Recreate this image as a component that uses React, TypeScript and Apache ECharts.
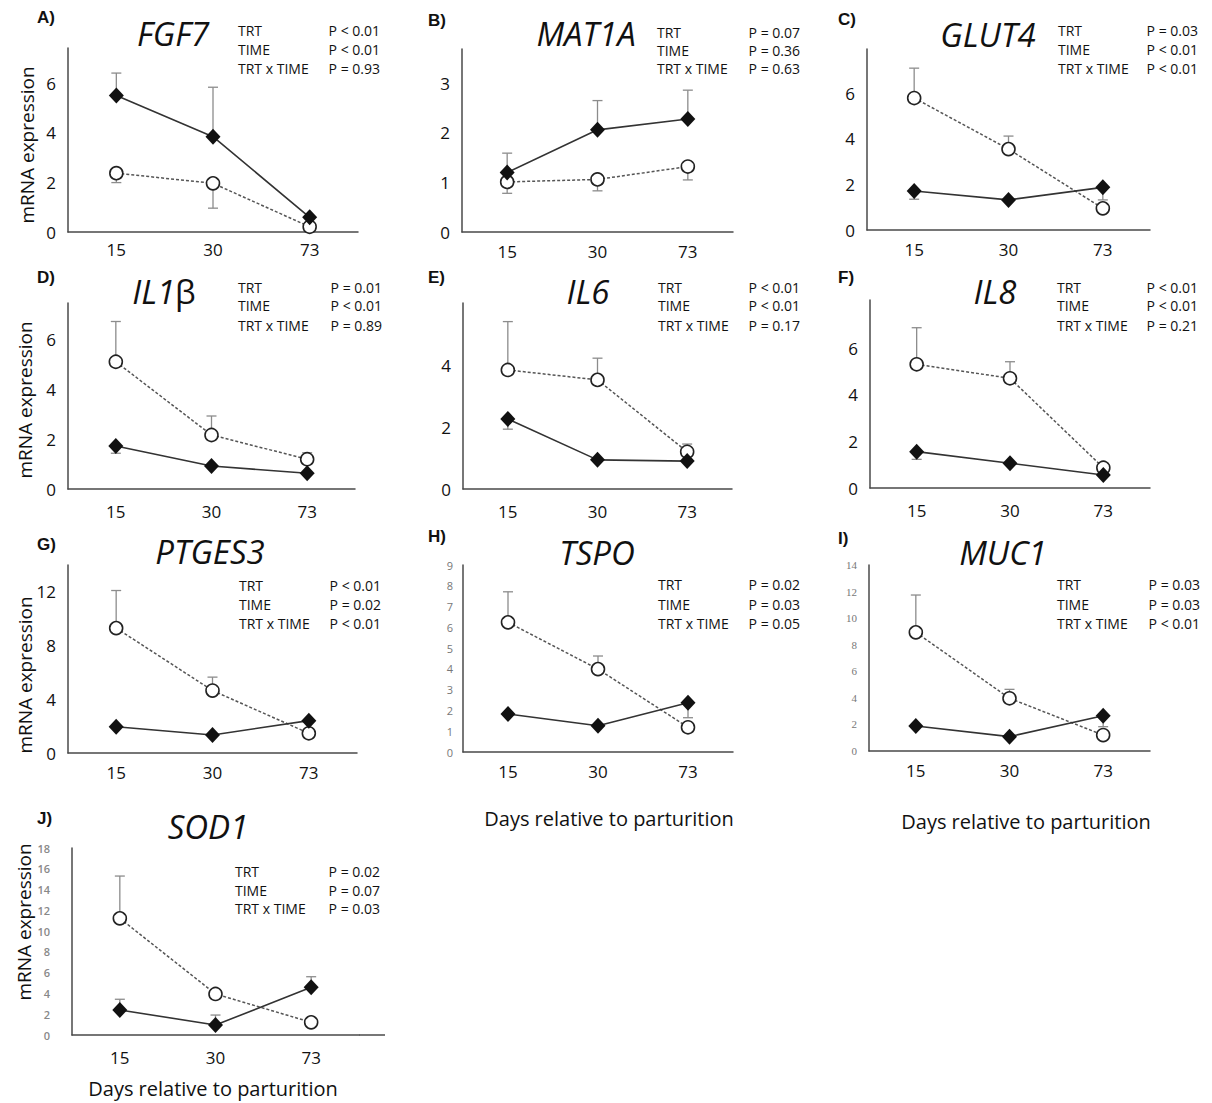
import React, { useEffect, useRef } from 'react';
import * as echarts from 'echarts';

// ---------- data ----------
const days = ['15', '30', '73'];
const statNames = ['TRT', 'TIME', 'TRT x TIME'];

const fgf7Diamond = [5.5, 3.84, 0.59];
const fgf7DiamondErr = [6.4, 5.83, null];
const fgf7Circle = [2.37, 1.96, 0.21];
const fgf7CircleErr = [1.99, 0.96, null];
const fgf7Ticks = [0, 2, 4, 6];
const fgf7P = ['P < 0.01', 'P < 0.01', 'P = 0.93'];

const mat1aDiamond = [1.2, 2.06, 2.28];
const mat1aDiamondErr = [1.59, 2.65, 2.86];
const mat1aCircle = [1.01, 1.06, 1.32];
const mat1aCircleErr = [0.78, 0.83, 1.05];
const mat1aTicks = [0, 1, 2, 3];
const mat1aP = ['P = 0.07', 'P = 0.36', 'P = 0.63'];

const glut4Diamond = [1.71, 1.32, 1.87];
const glut4DiamondErr = [1.35, null, 1.32];
const glut4Circle = [5.79, 3.55, 0.95];
const glut4CircleErr = [7.1, 4.12, null];
const glut4Ticks = [0, 2, 4, 6];
const glut4P = ['P = 0.03', 'P < 0.01', 'P < 0.01'];

const il1bDiamond = [1.72, 0.92, 0.63];
const il1bDiamondErr = [1.43, null, null];
const il1bCircle = [5.09, 2.16, 1.19];
const il1bCircleErr = [6.7, 2.92, 1.45];
const il1bTicks = [0, 2, 4, 6];
const il1bP = ['P = 0.01', 'P < 0.01', 'P = 0.89'];

const il6Diamond = [2.26, 0.94, 0.9];
const il6DiamondErr = [1.93, null, null];
const il6Circle = [3.84, 3.52, 1.2];
const il6CircleErr = [5.4, 4.22, 1.45];
const il6Ticks = [0, 2, 4];
const il6P = ['P < 0.01', 'P < 0.01', 'P = 0.17'];

const il8Diamond = [1.56, 1.06, 0.56];
const il8DiamondErr = [1.23, null, null];
const il8Circle = [5.31, 4.71, 0.87];
const il8CircleErr = [6.88, 5.42, 1.07];
const il8Ticks = [0, 2, 4, 6];
const il8P = ['P < 0.01', 'P < 0.01', 'P = 0.21'];

const ptges3Diamond = [1.96, 1.34, 2.41];
const ptges3DiamondErr = [null, null, null];
const ptges3Circle = [9.3, 4.65, 1.47];
const ptges3CircleErr = [12.1, 5.65, null];
const ptges3Ticks = [0, 4, 8, 12];
const ptges3P = ['P < 0.01', 'P = 0.02', 'P < 0.01'];

const tspoDiamond = [1.83, 1.26, 2.37];
const tspoDiamondErr = [null, null, 1.65];
const tspoCircle = [6.24, 3.99, 1.19];
const tspoCircleErr = [7.71, 4.62, null];
const tspoTicks = [0, 1, 2, 3, 4, 5, 6, 7, 8, 9];
const tspoP = ['P = 0.02', 'P = 0.03', 'P = 0.05'];

const muc1Diamond = [1.88, 1.08, 2.66];
const muc1DiamondErr = [null, null, 1.83];
const muc1Circle = [8.93, 3.97, 1.2];
const muc1CircleErr = [11.74, 4.64, null];
const muc1Ticks = [0, 2, 4, 6, 8, 10, 12, 14];
const muc1P = ['P = 0.03', 'P = 0.03', 'P < 0.01'];

const sod1Diamond = [2.41, 0.96, 4.59];
const sod1DiamondErr = [3.44, 1.92, 5.61];
const sod1Circle = [11.23, 3.95, 1.22];
const sod1CircleErr = [15.3, null, null];
const sod1Ticks = [0, 2, 4, 6, 8, 10, 12, 14, 16, 18];
const sod1P = ['P = 0.02', 'P = 0.07', 'P = 0.03'];

// ---------- panel definitions (data refs + layout) ----------
const bigLabel = { fontSize: 17, color: '#111', fontFamily: 'Open Sans' };
const smallSans = { fontSize: 11, color: '#777', fontFamily: 'Open Sans' };
const smallSerif = { fontSize: 11, color: '#777', fontFamily: 'Liberation Serif' };
const jLabel = { fontSize: 11, color: '#888', fontFamily: 'Open Sans', fontWeight: 600 };

const panels: any[] = [
  { letter: 'A)', gene: 'FGF7', d: fgf7Diamond, de: fgf7DiamondErr, c: fgf7Circle, ce: fgf7CircleErr, ticks: fgf7Ticks, p: fgf7P, interval: 2, max: 7.41,
    g: [68, 48, 358, 232], yl: bigLabel, ym: 12, xm: 9, lt: [37, 17], tt: [173, 33], st: [238, 380, 30, 49, 68], yName: [27, 145] },
  { letter: 'B)', gene: 'MAT1A', d: mat1aDiamond, de: mat1aDiamondErr, c: mat1aCircle, ce: mat1aCircleErr, ticks: mat1aTicks, p: mat1aP, interval: 1, max: 3.69,
    g: [462, 49, 733, 232], yl: bigLabel, ym: 12, xm: 11, lt: [428, 20], tt: [586, 33], st: [657, 800, 32, 50, 68] },
  { letter: 'C)', gene: 'GLUT4', d: glut4Diamond, de: glut4DiamondErr, c: glut4Circle, ce: glut4CircleErr, ticks: glut4Ticks, p: glut4P, interval: 2, max: 7.94,
    g: [867, 49, 1150, 230], yl: bigLabel, ym: 12, xm: 11, lt: [838, 19], tt: [988, 34], st: [1058, 1198, 30, 49, 68] },
  { letter: 'D)', gene: 'IL1', geneSuffix: 'β', d: il1bDiamond, de: il1bDiamondErr, c: il1bCircle, ce: il1bCircleErr, ticks: il1bTicks, p: il1bP, interval: 2, max: 7.44,
    g: [68, 303, 355, 489], yl: bigLabel, ym: 12, xm: 14, lt: [37, 277], tt: [164, 291], st: [238, 382, 287, 305, 325], yName: [25, 400] },
  { letter: 'E)', gene: 'IL6', d: il6Diamond, de: il6DiamondErr, c: il6Circle, ce: il6CircleErr, ticks: il6Ticks, p: il6P, interval: 2, max: 6.0,
    g: [463, 303, 732, 489], yl: bigLabel, ym: 12, xm: 14, lt: [428, 277], tt: [588, 291], st: [658, 800, 287, 305, 325] },
  { letter: 'F)', gene: 'IL8', d: il8Diamond, de: il8DiamondErr, c: il8Circle, ce: il8CircleErr, ticks: il8Ticks, p: il8P, interval: 2, max: 8.07,
    g: [870, 300, 1150, 488], yl: bigLabel, ym: 12, xm: 14, lt: [838, 277], tt: [995, 291], st: [1057, 1198, 287, 305, 325] },
  { letter: 'G)', gene: 'PTGES3', d: ptges3Diamond, de: ptges3DiamondErr, c: ptges3Circle, ce: ptges3CircleErr, ticks: ptges3Ticks, p: ptges3P, interval: 4, max: 14,
    g: [68, 565, 357, 753], yl: bigLabel, ym: 12, xm: 11, lt: [37, 544], tt: [210, 551], st: [239, 381, 585, 604, 623], yName: [25, 675] },
  { letter: 'H)', gene: 'TSPO', d: tspoDiamond, de: tspoDiamondErr, c: tspoCircle, ce: tspoCircleErr, ticks: tspoTicks, p: tspoP, interval: 1, max: 9,
    g: [463, 565, 733, 752], yl: smallSans, ym: 10, xm: 11, lt: [428, 536], tt: [597, 552], st: [658, 800, 584, 604, 623], xName: [609, 818] },
  { letter: 'I)', gene: 'MUC1', d: muc1Diamond, de: muc1DiamondErr, c: muc1Circle, ce: muc1CircleErr, ticks: muc1Ticks, p: muc1P, interval: 2, max: 14,
    g: [869, 565, 1150, 751], yl: smallSerif, ym: 12, xm: 11, lt: [838, 538], tt: [1003, 552], st: [1057, 1200, 584, 604, 623], xName: [1026, 821] },
  { letter: 'J)', gene: 'SOD1', d: sod1Diamond, de: sod1DiamondErr, c: sod1Circle, ce: sod1CircleErr, ticks: sod1Ticks, p: sod1P, interval: 2, max: 18,
    g: [72, 848, 359, 1035], yl: jLabel, ym: 22, xm: 14, lt: [37, 818], tt: [208, 826], st: [235, 380, 871, 890, 908], yName: [24, 922], xName: [213, 1088], axisExt: 385 },
];

const AXIS_COLOR = '#4a4a4a';
const ERR_COLOR = '#8c8c8c';

function errData(mean: number[], err: (number | null)[]) {
  const out: any[] = [];
  mean.forEach((m, i) => {
    if (err[i] != null) out.push([i, m, err[i]]);
  });
  return out;
}

const renderErr = (params: any, api: any) => {
  const p0 = api.coord([api.value(0), api.value(1)]);
  const p1 = api.coord([api.value(0), api.value(2)]);
  const st = { stroke: ERR_COLOR, lineWidth: 1.3 };
  return {
    type: 'group',
    children: [
      { type: 'line', shape: { x1: p0[0], y1: p0[1], x2: p1[0], y2: p1[1] }, style: st },
      { type: 'line', shape: { x1: p1[0] - 5, y1: p1[1], x2: p1[0] + 5, y2: p1[1] }, style: st },
    ],
  };
};

function buildOption() {
  const grid: any[] = [];
  const xAxis: any[] = [];
  const yAxis: any[] = [];
  const series: any[] = [];
  const graphic: any[] = [];

  panels.forEach((p, i) => {
    const [l, t, r, b] = p.g;
    grid.push({ left: l, top: t, width: r - l, height: b - t, containLabel: false });
    xAxis.push({
      gridIndex: i, type: 'category', data: days, boundaryGap: true,
      axisLine: { lineStyle: { color: AXIS_COLOR, width: 1.5 } },
      axisTick: { show: false },
      axisLabel: { margin: p.xm, fontSize: 17, color: '#111', fontFamily: 'Open Sans' },
      splitLine: { show: false },
    });
    const ticks = p.ticks;
    yAxis.push({
      gridIndex: i, type: 'value', min: 0, max: p.max, interval: p.interval,
      axisLine: { show: true, lineStyle: { color: AXIS_COLOR, width: 1.5 } },
      axisTick: { show: false },
      splitLine: { show: false },
      axisLabel: {
        margin: p.ym, ...p.yl, showMaxLabel: true,
        formatter: (v: number) => (ticks.some((tk: number) => Math.abs(tk - v) < 1e-6) ? String(Math.round(v)) : ''),
      },
    });
    series.push({
      type: 'custom', coordinateSystem: 'cartesian2d', xAxisIndex: i, yAxisIndex: i,
      data: errData(p.c, p.ce), encode: { x: 0, y: 1 }, renderItem: renderErr, z: 1, silent: true,
    });
    series.push({
      type: 'custom', coordinateSystem: 'cartesian2d', xAxisIndex: i, yAxisIndex: i,
      data: errData(p.d, p.de), encode: { x: 0, y: 1 }, renderItem: renderErr, z: 1, silent: true,
    });
    series.push({
      type: 'line', xAxisIndex: i, yAxisIndex: i, data: p.c,
      symbol: 'circle', symbolSize: 13, showSymbol: true,
      itemStyle: { color: '#ffffff', borderColor: '#222', borderWidth: 1.6 },
      lineStyle: { color: '#555', width: 1.5, type: [3, 2] },
      z: 3,
    });
    series.push({
      type: 'line', xAxisIndex: i, yAxisIndex: i, data: p.d,
      symbol: 'diamond', symbolSize: [15, 16], showSymbol: true,
      itemStyle: { color: '#111' },
      lineStyle: { color: '#333', width: 1.6 },
      z: 4,
    });

    // panel letter
    graphic.push({
      type: 'text', x: p.lt[0], y: p.lt[1],
      style: { text: p.letter, fill: '#111', font: 'bold 17px "Liberation Sans"', textAlign: 'left', align: 'left', textVerticalAlign: 'middle', verticalAlign: 'middle' },
    });
    // gene title
    const titleText = p.geneSuffix ? `{i|${p.gene}}{n|${p.geneSuffix}}` : `{i|${p.gene}}`;
    graphic.push({
      type: 'text', x: p.tt[0], y: p.tt[1],
      style: {
        text: titleText, fill: '#111', textAlign: 'center', align: 'center', textVerticalAlign: 'middle', verticalAlign: 'middle',
        rich: {
          i: { fontSize: 33, lineHeight: 24, fontStyle: 'italic', fontFamily: 'Open Sans', fill: '#111', color: '#111' },
          n: { fontSize: 33, lineHeight: 24, fontFamily: 'Open Sans', fill: '#111', color: '#111' },
        },
      },
    });
    // stats
    const [sl, sr, y1, y2, y3] = p.st;
    [y1, y2, y3].forEach((yy: number, k: number) => {
      graphic.push({
        type: 'text', x: sl, y: yy,
        style: { text: statNames[k], fill: '#111', font: '14px "Open Sans"', textAlign: 'left', align: 'left', textVerticalAlign: 'middle', verticalAlign: 'middle' },
      });
      graphic.push({
        type: 'text', x: sr, y: yy,
        style: { text: p.p[k], fill: '#111', font: '14px "Open Sans"', textAlign: 'right', align: 'right', textVerticalAlign: 'middle', verticalAlign: 'middle' },
      });
    });
    if (p.yName) {
      graphic.push({
        type: 'text', x: p.yName[0], y: p.yName[1], rotation: Math.PI / 2,
        style: { text: 'mRNA expression', fill: '#111', font: '19px "Open Sans"', textAlign: 'center', align: 'center', textVerticalAlign: 'middle', verticalAlign: 'middle' },
      });
    }
    if (p.xName) {
      graphic.push({
        type: 'text', x: p.xName[0], y: p.xName[1],
        style: { text: 'Days relative to parturition', fill: '#111', font: '20px "Open Sans"', textAlign: 'center', align: 'center', textVerticalAlign: 'middle', verticalAlign: 'middle' },
      });
    }
    if (p.axisExt) {
      graphic.push({
        type: 'line', shape: { x1: r, y1: b, x2: p.axisExt, y2: b },
        style: { stroke: AXIS_COLOR, lineWidth: 1.5 },
      });
    }
  });

  return { animation: false, backgroundColor: '#ffffff', grid, xAxis, yAxis, series, graphic };
}

export default function App() {
  const ref = useRef<HTMLDivElement>(null);
  useEffect(() => {
    if (!ref.current) return;
    const chart = echarts.init(ref.current, undefined, { renderer: 'svg' });
    chart.setOption(buildOption() as any);
    return () => chart.dispose();
  }, []);
  return (
    <div
      ref={ref}
      style={{ position: 'absolute', left: 0, top: 0, width: 1212, height: 1103, background: '#fff' }}
    />
  );
}
